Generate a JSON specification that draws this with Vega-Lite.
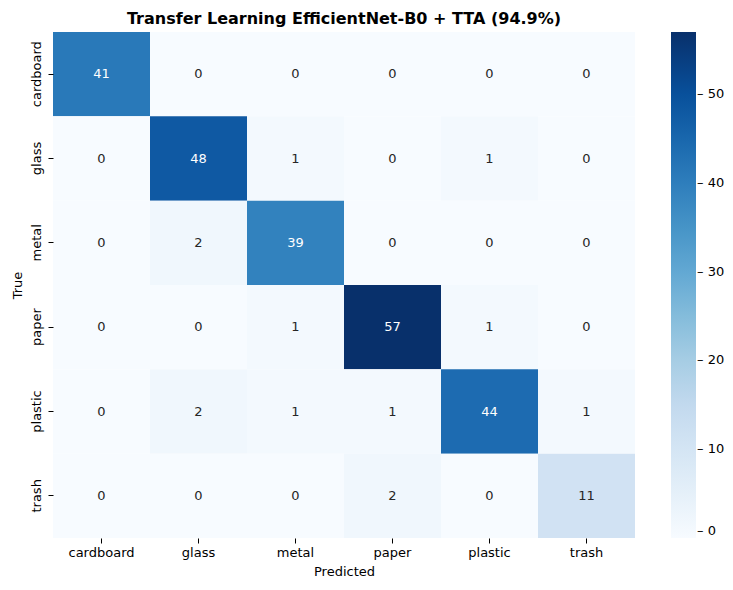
{
  "$schema": "https://vega.github.io/schema/vega-lite/v6.json",
  "width": 582,
  "height": 506,
  "autosize": {"type": "none"},
  "padding": {"left": 53, "top": 32, "right": 98, "bottom": 52},
  "title": {
    "text": "Transfer Learning EfficientNet-B0 + TTA (94.9%)",
    "font": "DejaVu Sans",
    "fontSize": 16,
    "fontWeight": "bold",
    "color": "black",
    "anchor": "middle",
    "frame": "group",
    "offset": 5
  },
  "data": {
    "values": [
      {"true": "cardboard", "pred": "cardboard", "n": 41},
      {"true": "cardboard", "pred": "glass", "n": 0},
      {"true": "cardboard", "pred": "metal", "n": 0},
      {"true": "cardboard", "pred": "paper", "n": 0},
      {"true": "cardboard", "pred": "plastic", "n": 0},
      {"true": "cardboard", "pred": "trash", "n": 0},
      {"true": "glass", "pred": "cardboard", "n": 0},
      {"true": "glass", "pred": "glass", "n": 48},
      {"true": "glass", "pred": "metal", "n": 1},
      {"true": "glass", "pred": "paper", "n": 0},
      {"true": "glass", "pred": "plastic", "n": 1},
      {"true": "glass", "pred": "trash", "n": 0},
      {"true": "metal", "pred": "cardboard", "n": 0},
      {"true": "metal", "pred": "glass", "n": 2},
      {"true": "metal", "pred": "metal", "n": 39},
      {"true": "metal", "pred": "paper", "n": 0},
      {"true": "metal", "pred": "plastic", "n": 0},
      {"true": "metal", "pred": "trash", "n": 0},
      {"true": "paper", "pred": "cardboard", "n": 0},
      {"true": "paper", "pred": "glass", "n": 0},
      {"true": "paper", "pred": "metal", "n": 1},
      {"true": "paper", "pred": "paper", "n": 57},
      {"true": "paper", "pred": "plastic", "n": 1},
      {"true": "paper", "pred": "trash", "n": 0},
      {"true": "plastic", "pred": "cardboard", "n": 0},
      {"true": "plastic", "pred": "glass", "n": 2},
      {"true": "plastic", "pred": "metal", "n": 1},
      {"true": "plastic", "pred": "paper", "n": 1},
      {"true": "plastic", "pred": "plastic", "n": 44},
      {"true": "plastic", "pred": "trash", "n": 1},
      {"true": "trash", "pred": "cardboard", "n": 0},
      {"true": "trash", "pred": "glass", "n": 0},
      {"true": "trash", "pred": "metal", "n": 0},
      {"true": "trash", "pred": "paper", "n": 2},
      {"true": "trash", "pred": "plastic", "n": 0},
      {"true": "trash", "pred": "trash", "n": 11}
    ]
  },
  "encoding": {
    "x": {
      "field": "pred",
      "type": "nominal",
      "sort": ["cardboard", "glass", "metal", "paper", "plastic", "trash"],
      "scale": {"paddingInner": 0, "paddingOuter": 0},
      "title": "Predicted",
      "axis": {
        "labelAngle": 0,
        "domain": false,
        "tickColor": "black",
        "tickSize": 5,
        "labelPadding": 3,
        "labelFont": "DejaVu Sans",
        "labelFontSize": 13,
        "labelColor": "black",
        "titleFont": "DejaVu Sans",
        "titleFontSize": 13,
        "titleFontWeight": "normal",
        "titleColor": "black",
        "titlePadding": 6
      }
    },
    "y": {
      "field": "true",
      "type": "nominal",
      "sort": ["cardboard", "glass", "metal", "paper", "plastic", "trash"],
      "scale": {"paddingInner": 0, "paddingOuter": 0},
      "title": "True",
      "axis": {
        "labelAngle": -90,
        "labelAlign": "center",
        "labelBaseline": "bottom",
        "domain": false,
        "tickColor": "black",
        "tickSize": 5,
        "labelPadding": 5,
        "labelFont": "DejaVu Sans",
        "labelFontSize": 13,
        "labelColor": "black",
        "titleFont": "DejaVu Sans",
        "titleFontSize": 13,
        "titleFontWeight": "normal",
        "titleColor": "black",
        "titlePadding": 6
      }
    }
  },
  "layer": [
    {
      "mark": {"type": "rect"},
      "encoding": {
        "color": {
          "field": "n",
          "type": "quantitative",
          "scale": {
            "domain": [0, 7.125, 14.25, 21.375, 28.5, 35.625, 42.75, 49.875, 57],
            "range": ["#f7fbff", "#deebf7", "#c6dbef", "#9ecae1", "#6baed6", "#4292c6", "#2171b5", "#08519c", "#08306b"],
            "interpolate": "rgb"
          },
          "legend": {
            "title": null,
            "orient": "none",
            "legendX": 618,
            "legendY": 0,
            "direction": "vertical",
            "gradientLength": 506,
            "gradientThickness": 25,
            "gradientStrokeWidth": 0,
            "values": [0, 10, 20, 30, 40, 50],
            "labelExpr": "'– ' + datum.label",
            "labelFont": "DejaVu Sans",
            "labelFontSize": 13,
            "labelColor": "black",
            "labelBaseline": "middle",
            "labelOffset": 1
          }
        }
      }
    },
    {
      "mark": {"type": "text", "font": "DejaVu Sans", "fontSize": 13},
      "encoding": {
        "text": {"field": "n", "type": "quantitative"},
        "color": {
          "condition": {"test": "datum.n > 30", "value": "white"},
          "value": "#262626"
        }
      }
    }
  ],
  "config": {"view": {"stroke": null}}
}
